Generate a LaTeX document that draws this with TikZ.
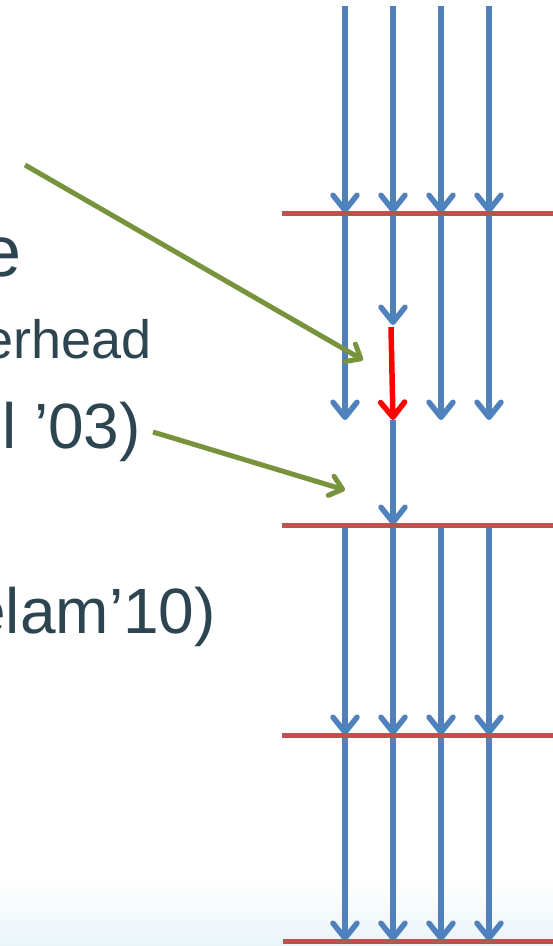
\documentclass[tikz,border=0pt]{standalone}
\usepackage{fontspec}
\setmainfont{Liberation Sans}
\usetikzlibrary{arrows.meta}
\definecolor{flowblue}{RGB}{79,129,189}
\definecolor{barred}{RGB}{192,80,77}
\definecolor{pointgreen}{RGB}{119,147,60}
\definecolor{txtcol}{RGB}{44,69,80}
\definecolor{bgblue}{RGB}{233,244,249}
\tikzset{
  softshade/.style={preaction={draw=black, draw opacity=0.16, transform canvas={shift={(1.4pt,-1.8pt)}}}},
  flow/.style={draw=flowblue, line width=5.5pt, softshade, -{Straight Barb[length=15pt,width=24pt,round]}},
  slowflow/.style={draw=red, line width=5.5pt, softshade, -{Straight Barb[length=15pt,width=24pt,round]}},
  barrier/.style={draw=barred, line width=5pt, softshade},
  pointer/.style={draw=pointgreen, line width=5pt, softshade, -{Straight Barb[length=12pt,width=20pt,round]}},
  lbl/.style={text=txtcol, inner sep=0pt, anchor=base east}
}
\begin{document}
\begin{tikzpicture}[x=1pt,y=-1pt]
\useasboundingbox (0,0) rectangle (553,946);
\fill[top color=white, bottom color=bgblue, draw=none] (0,880) rectangle (553,946);

% coordinates
\foreach \c/\x in {1/345,2/393,3/441,4/489}{
  \coordinate (t\c) at (\x,6);
  \coordinate (a\c) at (\x,213);
  \coordinate (b\c) at (\x,420);
  \coordinate (c\c) at (\x,525);
  \coordinate (d\c) at (\x,735);
  \coordinate (e\c) at (\x,941);
}
\coordinate (m2) at (393,325);
\coordinate (r2) at (391,327);

% stage 1
\foreach \c in {1,2,3,4}{ \draw[flow] (t\c) -- (a\c); }
% stage 2
\foreach \c in {1,3,4}{ \draw[flow] (a\c) -- (b\c); }
\draw[flow] (a2) -- (m2);
\draw[slowflow] (r2) -- (b2);
\draw[flow] (b2) -- (c2);
% stage 3 and 4
\foreach \c in {1,2,3,4}{ \draw[flow] (c\c) -- (d\c); \draw[flow] (d\c) -- (e\c); }

% barriers
\coordinate (L1a) at (282,213); \coordinate (L1b) at (553,213);
\coordinate (L2a) at (282,525); \coordinate (L2b) at (553,525);
\coordinate (L3a) at (282,735); \coordinate (L3b) at (553,735);
\coordinate (L4a) at (283,941); \coordinate (L4b) at (553,941);
\draw[barrier] (L1a) -- (L1b);
\draw[barrier] (L2a) -- (L2b);
\draw[barrier] (L3a) -- (L3b);
\draw[barrier] (L4a) -- (L4b);

% texts
\node[lbl, font=\fontsize{72}{72}\selectfont] (tx1) at (22,276) {e};
\node[lbl, font=\fontsize{54}{54}\selectfont] (tx2) at (152,358) {erhead};
\node[lbl, font=\fontsize{64}{64}\selectfont] (tx3) at (141,448) {l ’03)};
\node[lbl, font=\fontsize{64}{64}\selectfont] (tx4) at (216,633) {elam’10)};

% pointers
\coordinate (p1s) at (25,165); \coordinate (p1e) at (363,360);
\coordinate (p2s) at (153,432); \coordinate (p2e) at (345,490);
\draw[pointer] (p1s) -- (p1e);
\draw[pointer] (p2s) -- (p2e);
\end{tikzpicture}
\end{document}
